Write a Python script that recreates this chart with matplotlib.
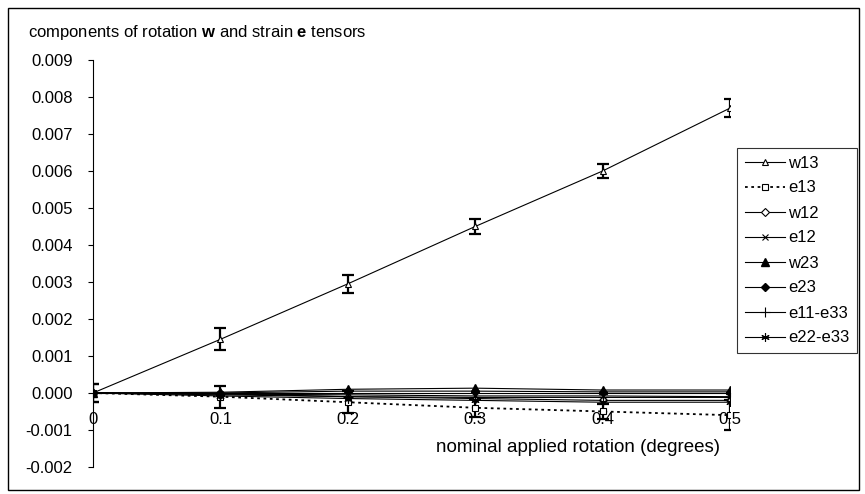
import matplotlib.pyplot as plt
from matplotlib.patches import Rectangle

plt.rcParams["font.family"] = ["Liberation Sans", "DejaVu Sans"]
plt.rcParams["mathtext.fontset"] = "custom"
plt.rcParams["mathtext.rm"] = "Liberation Sans"
plt.rcParams["mathtext.bf"] = "Liberation Sans:bold"
plt.rcParams["font.size"] = 12

# nominal applied rotation (degrees)
rotation = [0.0, 0.1, 0.2, 0.3, 0.4, 0.5]

# tensor components
w13 = [0.0, 0.00145, 0.00295, 0.0045, 0.0060, 0.0077]
e13 = [0.0, -0.0001, -0.00025, -0.0004, -0.0005, -0.0006]
w12 = [0.0, -0.00005, -0.0001, -0.00015, -0.0002, -0.0002]
e12 = [0.0, -0.00003, -0.00005, -0.00008, -0.00008, -0.0001]
w23 = [0.0, 0.00002, 0.0001, 0.00013, 0.00008, 0.00008]
e23 = [0.0, 0.0, 0.00005, 0.00005, 0.00003, 0.00003]
e11_e33 = [0.0, -0.00002, -0.0001, -0.00012, -0.00012, -0.00012]
e22_e33 = [0.0, -0.00008, -0.00015, -0.0002, -0.00025, -0.00025]

# error bars
w13_err = [0.00025, 0.0003, 0.00025, 0.0002, 0.0002, 0.00025]
e13_err = [0.00025, 0.0003, 0.0003, 0.00025, 0.0002, 0.0004]

x_labels = ["0", "0.1", "0.2", "0.3", "0.4", "0.5"]

fig = plt.figure(figsize=(8.65, 4.94), dpi=100)
ax = fig.add_axes([0.1075, 0.0547, 0.7365, 0.8239])

lw = 0.8
ax.errorbar(rotation, w13, yerr=w13_err, fmt="none", ecolor="black",
            elinewidth=1.6, capsize=4.5, capthick=1.6)
ax.errorbar(rotation, e13, yerr=e13_err, fmt="none", ecolor="black",
            elinewidth=1.6, capsize=4.5, capthick=1.6)

handles = []
handles += ax.plot(rotation, w13, color="black", lw=lw, marker="^", ms=5,
                   mfc="white", mec="black", mew=0.8, label="w13")
handles += ax.plot(rotation, e13, color="black", lw=1.3, ls=(0, (1.5, 2)),
                   marker="s", ms=4.5, mfc="white", mec="black", mew=0.8,
                   label="e13")
handles += ax.plot(rotation, w12, color="black", lw=lw, marker="D", ms=4,
                   mfc="white", mec="black", mew=0.8, label="w12")
handles += ax.plot(rotation, e12, color="black", lw=lw, marker="x", ms=5,
                   mew=0.8, label="e12")
handles += ax.plot(rotation, w23, color="black", lw=lw, marker="^", ms=5.5,
                   label="w23")
handles += ax.plot(rotation, e23, color="black", lw=lw, marker="D", ms=4.5,
                   label="e23")
handles += ax.plot(rotation, e11_e33, color="black", lw=lw, marker="+", ms=7,
                   mew=0.8, label="e11-e33")
handles += ax.plot(rotation, e22_e33, color="black", lw=lw, marker=(6, 2, 0),
                   ms=6, mew=0.8, label="e22-e33")

ax.set_xlim(0, 0.5)
ax.set_ylim(-0.002, 0.009)
ax.set_xticks(rotation)
ax.set_xticklabels(x_labels)
ax.set_yticks([i / 1000 for i in range(-2, 10)])
ax.set_yticklabels([f"{i / 1000:.3f}" for i in range(-2, 10)])

# Excel-style axes: left axis plus a horizontal axis through zero
for side in ["top", "right"]:
    ax.spines[side].set_visible(False)
ax.spines["bottom"].set_position(("data", 0))
ax.spines["left"].set_linewidth(0.8)
ax.spines["bottom"].set_linewidth(0.8)
ax.tick_params(axis="y", direction="out", length=3.6, width=0.8, pad=11)
ax.tick_params(axis="x", direction="out", length=3, width=0.8, pad=11)

ax.text(0.762, -0.00148, "nominal applied rotation (degrees)", ha="center",
        va="center", transform=ax.get_yaxis_transform(), fontsize=13.5)

fig.text(28 / 865, 1 - 32 / 494,
         r"components of rotation $\mathbf{w}$ and strain $\mathbf{e}$ tensors",
         ha="left", va="center", fontsize=12)

leg = fig.legend(handles=handles, loc="upper left",
                 bbox_to_anchor=(737 / 865, 1 - 148 / 494),
                 frameon=True, fancybox=False, edgecolor="black",
                 handlelength=2.4, handletextpad=0.2, labelspacing=0.6,
                 borderpad=0.45, borderaxespad=0, fontsize=12)
leg.get_frame().set_linewidth(0.8)

# chart area border
fig.patches.append(Rectangle((8 / 865, 4 / 494), 851 / 865, 482 / 494,
                             transform=fig.transFigure, fill=False,
                             edgecolor="black", lw=1))

plt.savefig("out.png", dpi=100)
